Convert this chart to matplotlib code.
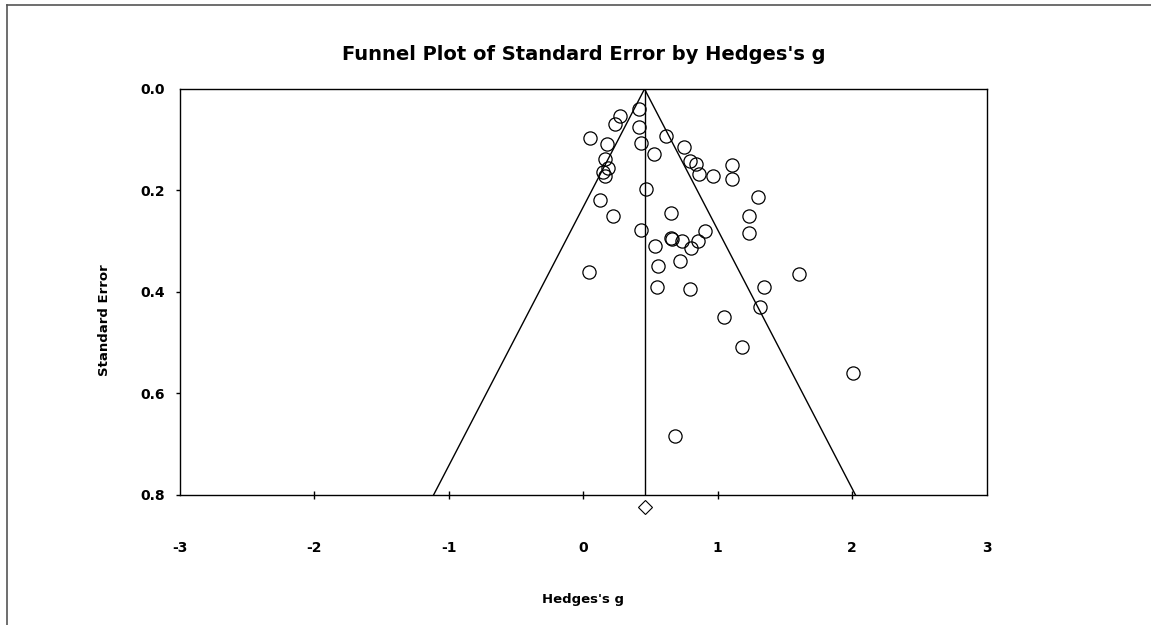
import matplotlib
matplotlib.use("Agg")
import matplotlib.pyplot as plt
import numpy as np
from matplotlib.lines import Line2D

# Study effect sizes (Hedges's g) and standard errors
hedges_g = [0.417, 0.275, 0.236, 0.414, 0.046, 0.174, 0.427, 0.613, 0.522, 0.748,
            0.161, 0.186, 0.149, 0.161, 0.794, 0.840, 0.862, 0.962, 1.106, 1.106,
            0.464, 0.126, 0.219, 0.651, 1.302, 1.235, 1.233, 0.902, 0.427, 0.536,
            0.650, 0.656, 0.737, 0.801, 0.856, 0.045, 0.554, 0.717, 0.546, 0.790,
            1.345, 1.315, 1.047, 1.181, 2.004, 0.680, 1.607]
std_err = [0.040, 0.054, 0.069, 0.075, 0.097, 0.109, 0.106, 0.093, 0.128, 0.115,
           0.139, 0.155, 0.164, 0.172, 0.141, 0.148, 0.167, 0.172, 0.149, 0.177,
           0.197, 0.218, 0.251, 0.245, 0.213, 0.250, 0.283, 0.280, 0.279, 0.309,
           0.293, 0.295, 0.300, 0.314, 0.300, 0.360, 0.349, 0.339, 0.391, 0.395,
           0.390, 0.430, 0.450, 0.509, 0.560, 0.684, 0.364]

combined_g = 0.455
diamond_se = 0.825
se_max = 0.8

x_ticks = [-3, -2, -1, 0, 1, 2, 3]
y_ticks = [0.0, 0.2, 0.4, 0.6, 0.8]

W, H = 1151, 625
fig = plt.figure(figsize=(W / 100, H / 100), dpi=100)
fig.patch.set_facecolor("white")

ax = fig.add_axes([180 / W, 1 - 494.7 / H, (986.7 - 180) / W, (494.7 - 89) / H])

# funnel lines
se_line = np.array([0.0, se_max])
ax.plot(combined_g - 1.96 * se_line, se_line, color="black", lw=1.0)
ax.plot(combined_g + 1.96 * se_line, se_line, color="black", lw=1.0)
ax.plot([combined_g, combined_g], [0, se_max], color="black", lw=1.0)

# studies
ax.plot(hedges_g, std_err, linestyle="none", marker="o", markersize=9.5,
        markerfacecolor="none", markeredgecolor="black", markeredgewidth=0.9)

# combined effect diamond below axis
ax.plot([combined_g], [diamond_se], linestyle="none", marker="D", markersize=7,
        markerfacecolor="white", markeredgecolor="black", markeredgewidth=0.8,
        clip_on=False)

ax.set_xlim(-3, 3)
ax.set_ylim(se_max, 0.0)
ax.set_xticks(x_ticks)
ax.set_xticklabels([str(t) for t in x_ticks])
ax.set_yticks(y_ticks)
ax.set_yticklabels([f"{t:.1f}" for t in y_ticks])

for lab in ax.get_xticklabels() + ax.get_yticklabels():
    lab.set_fontfamily("DejaVu Sans")
    lab.set_fontweight("bold")
    lab.set_fontsize(10)

ax.tick_params(axis="x", direction="inout", length=6, width=1, pad=30)
ax.tick_params(axis="y", direction="out", length=3, width=1, pad=8)
# no tick marks at the frame corners
xt = ax.xaxis.get_major_ticks()
xt[0].tick1line.set_visible(False)
xt[-1].tick1line.set_visible(False)
ax.yaxis.get_major_ticks()[0].tick1line.set_visible(False)

for s in ax.spines.values():
    s.set_linewidth(1.0)
    s.set_color("black")

fig.text(583.3 / W, 1 - 55 / H, "Funnel Plot of Standard Error by Hedges's g",
         ha="center", va="center", fontsize=14, fontweight="bold",
         family="DejaVu Sans")
fig.text(583.3 / W, 1 - 599 / H, "Hedges's g", ha="center", va="center",
         fontsize=9.5, fontweight="bold", family="DejaVu Sans")
fig.text(104 / W, 1 - 320 / H, "Standard Error", ha="center", va="center",
         rotation=90, fontsize=9.5, fontweight="bold", family="DejaVu Sans")

# outer frame lines (top & left)
fig.add_artist(Line2D([7.5 / W, 1.0], [1 - 5 / H, 1 - 5 / H], color="#555555",
                      lw=1.2, transform=fig.transFigure))
fig.add_artist(Line2D([7.5 / W, 7.5 / W], [1 - 5 / H, 0.0], color="#555555",
                      lw=1.2, transform=fig.transFigure))

fig.savefig("out.png", dpi=100, facecolor="white")
